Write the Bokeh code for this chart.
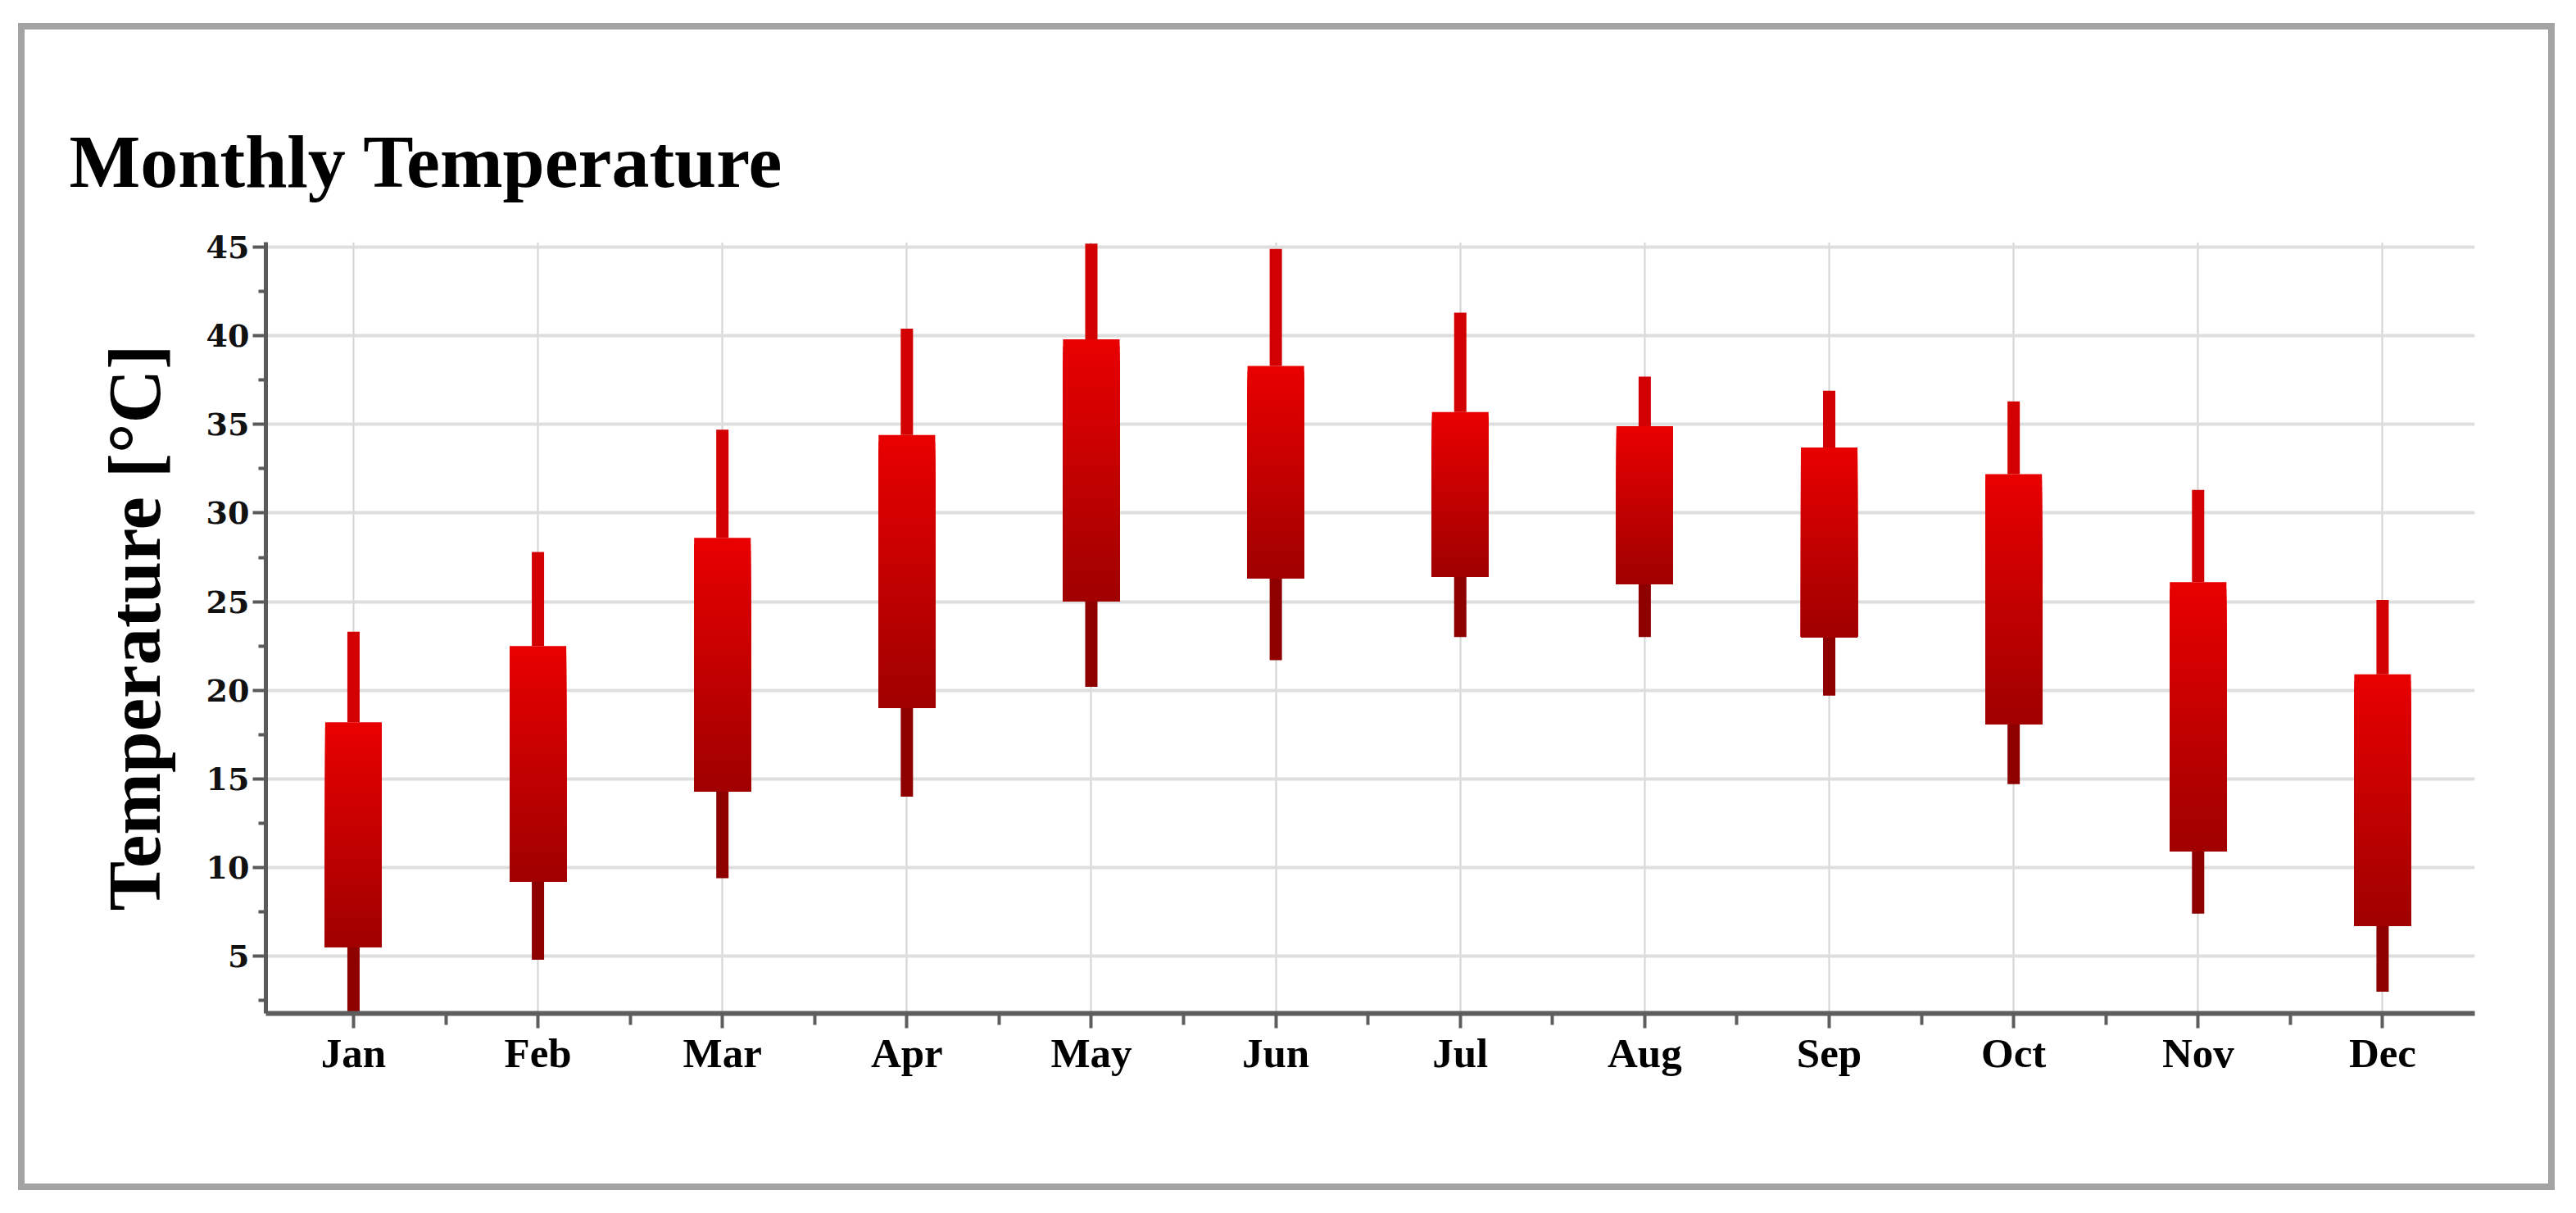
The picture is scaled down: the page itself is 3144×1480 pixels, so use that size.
from bokeh.plotting import figure
from bokeh.models import FixedTicker, Range1d, ColumnDataSource
from bokeh.embed import file_html
from bokeh.resources import INLINE

# ---------------- data ----------------
months = ["Jan", "Feb", "Mar", "Apr", "May", "Jun",
          "Jul", "Aug", "Sep", "Oct", "Nov", "Dec"]
high = [23.3, 27.8, 34.7, 40.4, 45.2, 44.9, 41.3, 37.7, 36.9, 36.3, 31.3, 25.1]
body_top = [18.2, 22.5, 28.6, 34.4, 39.8, 38.3, 35.7, 34.9, 33.7, 32.2, 26.1, 20.9]
body_bottom = [5.5, 9.2, 14.3, 19.0, 25.0, 26.3, 26.4, 26.0, 23.0, 18.1, 10.9, 6.7]
low = [1.5, 4.8, 9.4, 14.0, 20.2, 21.7, 23.0, 23.0, 19.7, 14.7, 7.4, 3.0]
y_ticks = [5, 10, 15, 20, 25, 30, 35, 40, 45]
y_minor = [2.5, 7.5, 12.5, 17.5, 22.5, 27.5, 32.5, 37.5, 42.5]

xs = list(range(len(months)))

SERIF = "Liberation Serif"

p = figure(
    frame_width=2696, frame_height=941,
    min_border_left=324, min_border_right=108,
    min_border_top=295, min_border_bottom=220,
    x_range=Range1d(-0.475, 11.5), y_range=Range1d(1.77, 45.28),
    output_backend="svg", toolbar_location=None,
    title="Monthly Temperature",
)
p.background_fill_color = "white"
p.border_fill_color = None
p.outline_line_color = None
# outer grey frame drawn as layered inset shadows on the figure box
p.styles = {
    "box-shadow": "inset 6px 12px 0 16px white, inset 6px 12px 0 24px #a3a3a3",
    "background-color": "white",
}

# title
p.title.text_font = SERIF
p.title.text_font_style = "bold"
p.title.text_font_size = "92px"
p.title.text_color = "black"
p.title.align = "left"
p.title.offset = -240
p.title.standoff = 96

# grids
p.xgrid.ticker = FixedTicker(ticks=xs)
p.xgrid.grid_line_color = "#d2d2d2"
p.xgrid.grid_line_width = 2
p.ygrid.ticker = FixedTicker(ticks=y_ticks)
p.ygrid.grid_line_color = "#dedede"
p.ygrid.grid_line_width = 4

# x axis
xa = p.xaxis[0]
xa.ticker = FixedTicker(ticks=xs, minor_ticks=[i + 0.5 for i in xs[:-1]])
xa.major_label_overrides = {i: m for i, m in enumerate(months)}
xa.axis_line_color = "#5e5e5e"
xa.axis_line_width = 6
xa.major_tick_line_color = "#5e5e5e"
xa.minor_tick_line_color = "#5e5e5e"
xa.major_tick_line_width = 4
xa.minor_tick_line_width = 4
xa.major_tick_in = 0
xa.minor_tick_in = 0
xa.major_tick_out = 18
xa.minor_tick_out = 14
xa.major_label_text_font = SERIF
xa.major_label_text_font_style = "bold"
xa.major_label_text_font_size = "51px"
xa.major_label_text_color = "black"
xa.major_label_standoff = 2

# y axis
ya = p.yaxis[0]
ya.ticker = FixedTicker(ticks=y_ticks, minor_ticks=y_minor)
ya.axis_line_color = "#5a5a5a"
ya.axis_line_width = 5
ya.major_tick_line_color = "#5a5a5a"
ya.minor_tick_line_color = "#5a5a5a"
ya.major_tick_line_width = 4
ya.minor_tick_line_width = 4
ya.major_tick_in = 0
ya.minor_tick_in = 0
ya.major_tick_out = 16
ya.minor_tick_out = 9
ya.major_label_text_font = "DejaVu Serif"
ya.major_label_text_font_style = "bold"
ya.major_label_text_font_size = "38px"
ya.major_label_text_color = "#111111"
ya.major_label_standoff = 4
ya.axis_label = "Temperature [°C]"
ya.axis_label_text_font = SERIF
ya.axis_label_text_font_style = "bold"
ya.axis_label_text_font_size = "91px"
ya.axis_label_text_color = "black"
ya.axis_label_standoff = 34

# wicks
wick_src = ColumnDataSource(dict(x=xs, high=high, top=body_top,
                                 bottom=body_bottom, low=low))
p.segment(x0="x", y0="top", x1="x", y1="high", source=wick_src,
          line_color="#d20000", line_width=15)
p.segment(x0="x", y0="low", x1="x", y1="bottom", source=wick_src,
          line_color="#8e0000", line_width=15)

# gradient bodies (stacked from body bottom, top colour first)
N = 40
c_top = 232
c_bot = 160
gx, gt, gb, gc = [], [], [], []
for k in range(N):
    t = k / (N - 1)
    r = int(round(c_top + (c_bot - c_top) * t))
    col = "#%02x0000" % r
    for i in xs:
        h = (body_top[i] - body_bottom[i]) / N
        gx.append(i)
        gt.append(body_top[i] - k * h)
        gb.append(body_bottom[i])
        gc.append(col)
p.vbar(x=gx, top=gt, bottom=gb, width=0.307, fill_color=gc, line_color=None)

open("out.html", "w").write(file_html(p, INLINE))
